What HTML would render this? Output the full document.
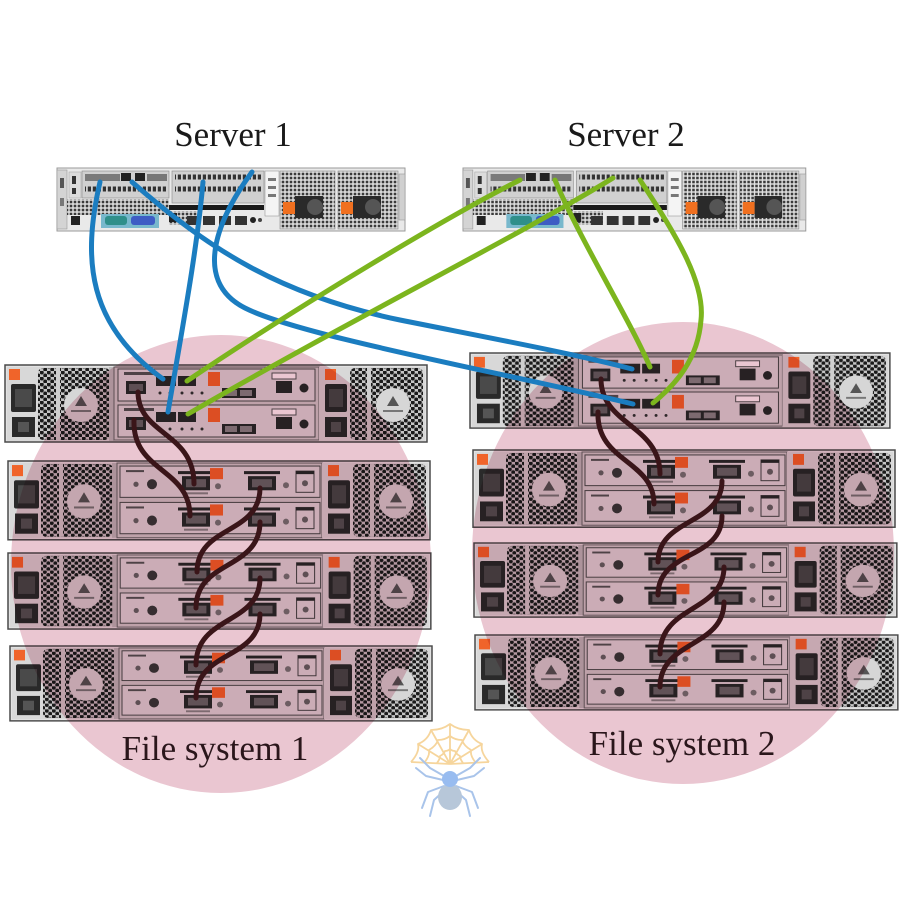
<!DOCTYPE html>
<html><head><meta charset="utf-8"><style>
html,body{margin:0;padding:0;background:#fff;}
svg{display:block;}
text{font-family:"Liberation Serif","Times New Roman",serif;}
</style></head><body>
<svg width="900" height="900" viewBox="0 0 900 900" xmlns="http://www.w3.org/2000/svg">
<defs>
<pattern id="hex" width="7" height="6" patternUnits="userSpaceOnUse">
<rect width="7" height="6" fill="#c4c4c4"/>
<circle cx="1.75" cy="1.5" r="2.0" fill="#1a1a1a"/>
<circle cx="5.25" cy="4.5" r="2.0" fill="#1a1a1a"/>
</pattern>
<pattern id="sq" width="4" height="4" patternUnits="userSpaceOnUse">
<rect width="4" height="4" fill="#e4e4e4"/>
<rect x="0.7" y="0.7" width="2.6" height="2.6" fill="#3a3a3a"/>
</pattern>
<pattern id="sl" width="5" height="6" patternUnits="userSpaceOnUse">
<rect x="0.8" y="0.5" width="3.2" height="5" fill="#333"/>
</pattern>

<g id="psuL">
<rect x="2" y="2" width="104" height="74" fill="#d8d8d8"/>
<rect x="4" y="4" width="11" height="11" fill="#f0642a"/>
<rect x="6" y="19" width="25" height="28" rx="2" fill="#2a2a2a"/>
<rect x="10" y="24" width="17" height="18" fill="#4a4a4a"/>
<rect x="7" y="52" width="23" height="20" fill="#2a2a2a"/>
<rect x="13" y="57" width="11" height="10" fill="#555"/>
<rect x="33" y="3" width="72" height="72" rx="5" fill="url(#hex)"/>
<rect x="51" y="3" width="4" height="72" fill="#cfcfcf"/>
<circle cx="76" cy="40" r="17" fill="#d6d6d6"/>
<path d="M76 31 l6 10 h-12z" fill="#555"/>
<rect x="66" y="45" width="20" height="2" fill="#777"/>
<rect x="104" y="2" width="5" height="74" fill="#bdbdbd"/>
</g>
<g id="psuR">
<rect x="314" y="2" width="106" height="74" fill="#d8d8d8"/>
<rect x="320" y="4" width="11" height="11" fill="#f0642a"/>
<rect x="320" y="19" width="22" height="28" rx="2" fill="#2a2a2a"/>
<rect x="324" y="24" width="14" height="18" fill="#4a4a4a"/>
<rect x="320" y="52" width="22" height="20" fill="#2a2a2a"/>
<rect x="326" y="57" width="10" height="10" fill="#555"/>
<rect x="345" y="3" width="73" height="72" rx="5" fill="url(#hex)"/>
<rect x="362" y="3" width="4" height="72" fill="#cfcfcf"/>
<circle cx="388" cy="40" r="17" fill="#d6d6d6"/>
<path d="M388 31 l6 10 h-12z" fill="#555"/>
<rect x="378" y="45" width="20" height="2" fill="#777"/>
</g>

<g id="emod">
<rect width="200" height="31" fill="#dedede" stroke="#4a4a4a" stroke-width="1"/>
<rect x="6" y="4" width="18" height="2" fill="#555"/>
<circle cx="16" cy="18" r="2.6" fill="#666"/>
<circle cx="32" cy="18" r="5" fill="#3a3a3a"/>
<rect x="58" y="5" width="34" height="3" fill="#2a2a2a"/>
<rect x="62" y="10" width="28" height="14" fill="#2a2a2a"/>
<rect x="66" y="13" width="20" height="8" fill="#6a6a6a"/>
<rect x="64" y="26" width="24" height="2" fill="#888"/>
<rect x="90" y="2" width="13" height="11" fill="#f0642a"/>
<circle cx="98" cy="20" r="3" fill="#777"/>
<rect x="124" y="5" width="36" height="3" fill="#2a2a2a"/>
<rect x="128" y="10" width="28" height="14" fill="#2a2a2a"/>
<rect x="132" y="13" width="20" height="8" fill="#6a6a6a"/>
<circle cx="166" cy="19" r="3" fill="#777"/>
<rect x="176" y="5" width="18" height="21" fill="none" stroke="#444"/>
<rect x="176" y="5" width="18" height="3" fill="#2a2a2a"/>
<circle cx="185" cy="17" r="3" fill="#666"/>
</g>

<g id="cmod">
<rect width="197" height="32" fill="#dedede" stroke="#4a4a4a"/>
<rect x="6" y="3" width="30" height="3" fill="#555"/>
<rect x="8" y="12" width="20" height="13" fill="#2a2a2a"/>
<rect x="11" y="15" width="14" height="7" fill="#666"/>
<rect x="38" y="7" width="20" height="10" fill="#2a2a2a"/>
<rect x="60" y="7" width="18" height="10" fill="#2a2a2a"/>
<g fill="#333"><circle cx="42" cy="24" r="1.5"/><circle cx="52" cy="24" r="1.5"/><circle cx="64" cy="24" r="1.5"/><circle cx="74" cy="24" r="1.5"/><circle cx="84" cy="24" r="1.5"/></g>
<rect x="90" y="3" width="12" height="14" fill="#f0642a"/>
<rect x="104" y="19" width="34" height="10" fill="#2a2a2a"/>
<rect x="107" y="21" width="12" height="6" fill="#888"/>
<rect x="122" y="21" width="12" height="6" fill="#888"/>
<rect x="154" y="4" width="24" height="6" fill="#fff" stroke="#555"/>
<rect x="158" y="12" width="16" height="12" fill="#2a2a2a"/>
<circle cx="186" cy="19" r="4.5" fill="#2a2a2a"/>
</g>

<g id="exp">
<rect x="0" y="0" width="422" height="78" fill="#e2e2e2" stroke="#4a4a4a" stroke-width="1.5"/>
<use href="#psuL"/>
<rect x="109" y="2" width="205" height="74" fill="#cfcfcf" stroke="#666"/>
<use href="#emod" x="112" y="5"/>
<use href="#emod" x="112" y="41"/>
<use href="#psuR"/>
</g>
<g id="cenc">
<rect x="0" y="0" width="422" height="77" fill="#e2e2e2" stroke="#4a4a4a" stroke-width="1.5"/>
<use href="#psuL"/>
<rect x="109" y="2" width="205" height="73" fill="#cfcfcf" stroke="#666"/>
<use href="#cmod" x="113" y="4"/>
<use href="#cmod" x="113" y="40"/>
<use href="#psuR"/>
</g>

<g id="srv">
<rect x="0" y="0" width="348" height="63" fill="#e9e9e9" stroke="#9a9a9a"/>
<rect x="0" y="2" width="10" height="59" fill="#d4d4d4" stroke="#999" stroke-width=".6"/>
<rect x="3" y="10" width="4" height="10" fill="#555"/>
<rect x="3" y="30" width="4" height="8" fill="#777"/>
<rect x="12" y="4" width="12" height="26" fill="#dcdcdc" stroke="#aaa" stroke-width=".6"/>
<rect x="15" y="8" width="4" height="8" fill="#333"/>
<rect x="15" y="20" width="4" height="6" fill="#333"/>
<rect x="25" y="3" width="87" height="27" fill="#d0d0d0" stroke="#888" stroke-width=".6"/>
<rect x="28" y="6" width="35" height="7" fill="#7a7a7a"/>
<rect x="64" y="5" width="10" height="8" fill="#222"/>
<rect x="78" y="5" width="10" height="8" fill="#222"/>
<rect x="90" y="6" width="20" height="7" fill="#777"/>
<rect x="28" y="18" width="82" height="6" fill="url(#sl)"/>
<rect x="10" y="31" width="102" height="16" fill="url(#sq)"/>
<rect x="14" y="48" width="9" height="9" fill="#222"/>
<rect x="44" y="46" width="58" height="14" fill="#78b8cc"/>
<rect x="48" y="48" width="22" height="9" rx="3" fill="#2f8f8a"/>
<rect x="74" y="48" width="24" height="9" rx="3" fill="#3d5cc4"/>
<rect x="115" y="3" width="92" height="32" fill="#d0d0d0" stroke="#888" stroke-width=".6"/>
<rect x="118" y="6" width="87" height="6" fill="url(#sl)"/>
<rect x="118" y="18" width="87" height="6" fill="url(#sl)"/>
<rect x="112" y="37" width="95" height="5" fill="#1a1a1a"/>
<rect x="112" y="43" width="30" height="14" fill="url(#sq)"/>
<rect x="112" y="45" width="8" height="9" fill="#222"/>
<rect x="130" y="48" width="12" height="9" fill="#333"/>
<rect x="146" y="48" width="12" height="9" fill="#333"/>
<rect x="162" y="48" width="12" height="9" fill="#333"/>
<rect x="178" y="48" width="12" height="9" fill="#333"/>
<circle cx="196" cy="52" r="3" fill="#222"/>
<circle cx="203" cy="52" r="2" fill="#444"/>
<rect x="208" y="3" width="14" height="45" fill="#f4f4f4" stroke="#999" stroke-width=".6"/>
<rect x="211" y="10" width="8" height="3" fill="#777"/>
<rect x="211" y="18" width="8" height="3" fill="#777"/>
<rect x="211" y="26" width="8" height="3" fill="#777"/>
<rect x="223" y="3" width="55" height="58" fill="url(#sq)" stroke="#888" stroke-width=".6"/>
<rect x="238" y="28" width="28" height="22" fill="#2a2a2a"/>
<circle cx="258" cy="39" r="8" fill="#555"/>
<rect x="226" y="34" width="12" height="12" fill="#f07020"/>
<rect x="281" y="3" width="60" height="58" fill="url(#sq)" stroke="#888" stroke-width=".6"/>
<rect x="296" y="28" width="28" height="22" fill="#2a2a2a"/>
<circle cx="316" cy="39" r="8" fill="#555"/>
<rect x="284" y="34" width="12" height="12" fill="#f07020"/>
<rect x="342" y="6" width="6" height="46" fill="#d0d0d0" stroke="#999" stroke-width=".6"/>
</g>
</defs>

<rect width="900" height="900" fill="#fff"/>

<!-- Left storage stack -->
<use href="#cenc" transform="translate(5,365)"/>
<use href="#exp" transform="translate(8,461) scale(1,1.01)"/>
<use href="#exp" transform="translate(8,553) scale(1.002,0.975)"/>
<use href="#exp" transform="translate(10,646) scale(1,0.96)"/>
<!-- Right storage stack -->
<use href="#cenc" transform="translate(470,353) scale(0.995,0.975)"/>
<use href="#exp" transform="translate(473,450) scale(1,0.99)"/>
<use href="#exp" transform="translate(474,543) scale(1.002,0.95)"/>
<use href="#exp" transform="translate(475,635) scale(1.002,0.96)"/>

<!-- pink tint ellipses -->
<ellipse cx="221" cy="564" rx="210" ry="229" fill="#eac6d1" style="mix-blend-mode:multiply"/>
<ellipse cx="683" cy="553" rx="211" ry="231" fill="#eac6d1" style="mix-blend-mode:multiply"/>

<!-- Servers -->
<use href="#srv" transform="translate(57,168)"/>
<use href="#srv" transform="translate(463,168) scale(0.985,1)"/>

<!-- daisy-chain cables -->
<g fill="none" stroke="#3a1519" stroke-width="5" stroke-linecap="round">
<path d="M138,392 C 138,435 194,432 194,484"/>
<path d="M134,420 C 132,472 190,468 190,516"/>
<path d="M260,488 C 260,535 197,525 197,572"/>
<path d="M260,522 C 260,570 196,560 196,608"/>
<path d="M260,578 C 260,625 196,615 196,665"/>
<path d="M260,614 C 260,660 196,650 196,698"/>
<path d="M601,379 C 601,425 660,425 660,474"/>
<path d="M598,412 C 596,462 654,460 654,504"/>
<path d="M722,481 C 722,525 658,518 658,562"/>
<path d="M722,516 C 722,560 658,550 658,595"/>
<path d="M724,567 C 724,612 660,605 660,654"/>
<path d="M724,602 C 724,648 660,640 660,687"/>
</g>

<!-- blue cables (server 1) -->
<g fill="none" stroke="#1b7dc0" stroke-width="5" stroke-linecap="round">
<path d="M100,182 C 82,260 88,325 163,379"/>
<path d="M203,182 C 197,250 182,330 168,412"/>
<path d="M132,182 C 210,250 280,295 400,320 C 500,340 580,355 632,369"/>
<path d="M252,172 C 220,215 190,280 245,308 C 300,336 500,372 633,404"/>
</g>
<!-- green cables (server 2) -->
<g fill="none" stroke="#7cb51e" stroke-width="5" stroke-linecap="round">
<path d="M520,180 C 450,215 300,305 187,381"/>
<path d="M613,178 C 520,235 350,320 188,414"/>
<path d="M555,180 C 580,240 630,320 650,367"/>
<path d="M640,180 C 680,240 705,285 701,320 C 698,360 675,385 653,403"/>
</g>

<!-- Labels -->
<g font-size="35" fill="#1a1a1a" text-anchor="middle">
<text x="233" y="146">Server 1</text>
<text x="626" y="146">Server 2</text>
</g>
<g font-size="35" fill="#2a161b" text-anchor="middle">
<text x="215" y="760">File system 1</text>
<text x="682" y="755">File system 2</text>
</g>

<!-- spider watermark -->
<g fill="none" stroke="#f6d59c" stroke-width="1.8" stroke-linejoin="round">
<path d="M450,764 L411,762 M450,764 L418,744 M450,764 L431,730 M450,764 L450,724 M450,764 L469,730 M450,764 L482,744 M450,764 L489,762"/>
<path d="M411,762 Q420,752 418,744 Q428,740 431,730 Q442,730 450,724 Q458,730 469,730 Q472,740 482,744 Q480,752 489,762"/>
<path d="M424,763 Q430,756 429,750 Q436,746 438,740 Q445,740 450,736 Q455,740 462,740 Q464,746 471,750 Q470,756 476,763"/>
<path d="M437,763 Q440,759 440,756 Q444,754 445,751 Q448,751 450,749 Q452,751 455,751 Q456,754 460,756 Q460,759 463,763"/>
</g>
<g fill="none" stroke="#a9c4ea" stroke-width="2" stroke-linecap="round" stroke-linejoin="round">
<path d="M444,776 L430,768 L420,758"/>
<path d="M443,780 L426,776 L416,768"/>
<path d="M444,786 L428,792 L422,808"/>
<path d="M445,790 L434,800 L430,816"/>
<path d="M456,776 L470,768 L480,758"/>
<path d="M457,780 L474,776 L484,768"/>
<path d="M456,786 L472,792 L478,808"/>
<path d="M455,790 L466,800 L470,816"/>
</g>
<ellipse cx="450" cy="797" rx="12" ry="13" fill="#b7c7d9"/>
<circle cx="450" cy="779" r="8" fill="#98bcf0"/>
</svg>
</body></html>
